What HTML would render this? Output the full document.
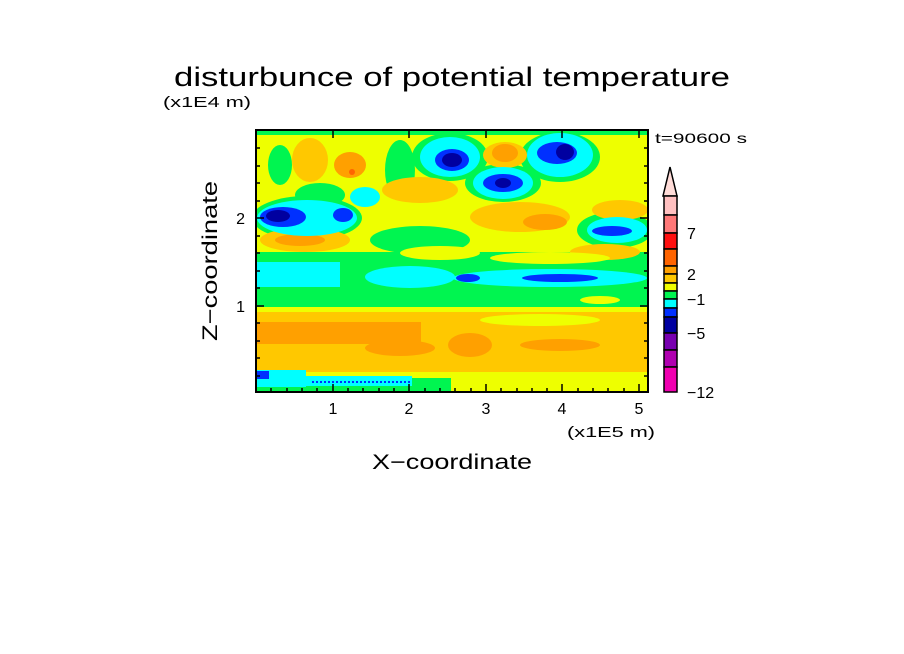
<!DOCTYPE html>
<html><head><meta charset="utf-8"><style>html,body{margin:0;padding:0;background:#fff;}svg{display:block}</style></head>
<body>
<svg width="904" height="654" viewBox="0 0 904 654" xmlns="http://www.w3.org/2000/svg" font-family="Liberation Sans, sans-serif">
<defs><clipPath id="c"><rect x="256" y="130" width="392" height="262"/></clipPath></defs>
<text x="174" y="86" font-size="27" textLength="556" lengthAdjust="spacingAndGlyphs">disturbunce of potential temperature</text>
<text x="163" y="107" font-size="15" textLength="88" lengthAdjust="spacingAndGlyphs">(x1E4 m)</text>
<text x="655" y="143" font-size="14" textLength="92" lengthAdjust="spacingAndGlyphs">t=90600 s</text>
<text x="567" y="437" font-size="15" textLength="88" lengthAdjust="spacingAndGlyphs">(x1E5 m)</text>
<text x="452" y="469" font-size="21" text-anchor="middle" textLength="160" lengthAdjust="spacingAndGlyphs">X−coordinate</text>
<text transform="translate(217,261) rotate(-90)" font-size="21" text-anchor="middle" textLength="160" lengthAdjust="spacingAndGlyphs">Z−coordinate</text>
<g clip-path="url(#c)">
<rect x="256" y="130" width="392" height="262" fill="#eeff00"/>
<rect x="256" y="130" width="392" height="5" fill="#00f550"/>
<ellipse cx="320" cy="195" rx="25" ry="12" fill="#00f550"/>
<ellipse cx="400" cy="170" rx="15" ry="30" fill="#00f550"/>
<ellipse cx="450" cy="157" rx="38" ry="24" fill="#00f550"/>
<ellipse cx="503" cy="183" rx="38" ry="19" fill="#00f550"/>
<ellipse cx="560" cy="157" rx="40" ry="25" fill="#00f550"/>
<ellipse cx="307" cy="218" rx="55" ry="22" fill="#00f550"/>
<ellipse cx="615" cy="230" rx="38" ry="18" fill="#00f550"/>
<ellipse cx="280" cy="165" rx="12" ry="20" fill="#00f550"/>
<rect x="256" y="252" width="392" height="58" fill="#00f550"/>
<ellipse cx="420" cy="240" rx="50" ry="14" fill="#00f550"/>
<ellipse cx="310" cy="160" rx="18" ry="22" fill="#ffc800"/>
<ellipse cx="350" cy="165" rx="16" ry="13" fill="#ffa000"/>
<circle cx="352" cy="172" r="3" fill="#ff6400"/>
<ellipse cx="505" cy="155" rx="22" ry="13" fill="#ffc800"/>
<ellipse cx="505" cy="153" rx="13" ry="9" fill="#ffa000"/>
<ellipse cx="420" cy="190" rx="38" ry="13" fill="#ffc800"/>
<ellipse cx="520" cy="217" rx="50" ry="15" fill="#ffc800"/>
<ellipse cx="545" cy="222" rx="22" ry="8" fill="#ffa000"/>
<ellipse cx="620" cy="210" rx="28" ry="10" fill="#ffc800"/>
<ellipse cx="305" cy="240" rx="45" ry="12" fill="#ffc800"/>
<ellipse cx="300" cy="240" rx="25" ry="6" fill="#ffa000"/>
<ellipse cx="605" cy="252" rx="35" ry="8" fill="#ffc800"/>
<ellipse cx="440" cy="253" rx="40" ry="7" fill="#eeff00"/>
<ellipse cx="550" cy="258" rx="60" ry="6" fill="#eeff00"/>
<ellipse cx="450" cy="157" rx="30" ry="20" fill="#00ffff"/>
<ellipse cx="503" cy="183" rx="30" ry="16" fill="#00ffff"/>
<ellipse cx="560" cy="155" rx="33" ry="22" fill="#00ffff"/>
<ellipse cx="307" cy="218" rx="50" ry="18" fill="#00ffff"/>
<ellipse cx="365" cy="197" rx="15" ry="10" fill="#00ffff"/>
<ellipse cx="617" cy="230" rx="30" ry="13" fill="#00ffff"/>
<rect x="256" y="262" width="84" height="25" fill="#00ffff"/>
<ellipse cx="410" cy="277" rx="45" ry="11" fill="#00ffff"/>
<ellipse cx="550" cy="278" rx="97" ry="9" fill="#00ffff"/>
<ellipse cx="452" cy="160" rx="17" ry="11" fill="#0030ff"/>
<ellipse cx="452" cy="160" rx="10" ry="7" fill="#0000a0"/>
<ellipse cx="503" cy="183" rx="20" ry="9" fill="#0030ff"/>
<ellipse cx="503" cy="183" rx="8" ry="5" fill="#0000a0"/>
<ellipse cx="557" cy="153" rx="20" ry="11" fill="#0030ff"/>
<ellipse cx="565" cy="152" rx="9" ry="8" fill="#0000a0"/>
<ellipse cx="283" cy="217" rx="23" ry="10" fill="#0030ff"/>
<ellipse cx="278" cy="216" rx="12" ry="6" fill="#0000a0"/>
<ellipse cx="343" cy="215" rx="10" ry="7" fill="#0030ff"/>
<ellipse cx="612" cy="231" rx="20" ry="5" fill="#0030ff"/>
<ellipse cx="468" cy="278" rx="12" ry="4" fill="#0030ff"/>
<ellipse cx="560" cy="278" rx="38" ry="4" fill="#0030ff"/>
<ellipse cx="600" cy="300" rx="20" ry="4" fill="#eeff00"/>
<rect x="256" y="307" width="392" height="6" fill="#eeff00"/>
<rect x="256" y="312" width="195" height="62" fill="#ffc800"/>
<rect x="451" y="312" width="197" height="60" fill="#ffc800"/>
<rect x="256" y="322" width="165" height="22" fill="#ffa000"/>
<ellipse cx="400" cy="348" rx="35" ry="8" fill="#ffa000"/>
<ellipse cx="470" cy="345" rx="22" ry="12" fill="#ffa000"/>
<ellipse cx="560" cy="345" rx="40" ry="6" fill="#ffa000"/>
<ellipse cx="540" cy="320" rx="60" ry="6" fill="#eeff00"/>
<rect x="256" y="372" width="392" height="20" fill="#eeff00"/>
<rect x="256" y="378" width="195" height="14" fill="#00f550"/>
<rect x="256" y="370" width="50" height="17" fill="#00ffff"/>
<rect x="306" y="376" width="106" height="10" fill="#00ffff"/>
<rect x="256" y="371" width="13" height="8" fill="#0030ff"/>
<line x1="312" y1="382" x2="412" y2="382" stroke="#0030ff" stroke-width="2" stroke-dasharray="2 2"/>
<rect x="451" y="385" width="197" height="7" fill="#eeff00"/>
</g>
<rect x="256" y="130" width="392" height="262" fill="none" stroke="#000" stroke-width="2"/>
<g stroke="#000" stroke-width="1.5">
<path d="M333 392v-8M409 392v-8M486 392v-8M562 392v-8M639 392v-8M333 130v8M409 130v8M486 130v8M562 130v8M639 130v8"/>
<path d="M256 306h8M256 218h8M648 306h-8M648 218h-8"/>
<path d="M271 392v-4M287 392v-4M302 392v-4M317 392v-4M348 392v-4M363 392v-4M379 392v-4M394 392v-4M425 392v-4M440 392v-4M455 392v-4M471 392v-4M501 392v-4M517 392v-4M532 392v-4M547 392v-4M578 392v-4M593 392v-4M608 392v-4M624 392v-4"/>
<path d="M256 376h4M256 358h4M256 341h4M256 323h4M256 288h4M256 271h4M256 253h4M256 236h4M256 201h4M256 183h4M256 166h4M256 148h4M648 376h-4M648 358h-4M648 341h-4M648 323h-4M648 288h-4M648 271h-4M648 253h-4M648 236h-4M648 201h-4M648 183h-4M648 166h-4M648 148h-4"/>
</g>
<g font-size="16" text-anchor="middle">
<text x="333" y="414">1</text><text x="409" y="414">2</text><text x="486" y="414">3</text><text x="562" y="414">4</text><text x="639" y="414">5</text>
</g>
<g font-size="16" text-anchor="end">
<text x="245" y="224">2</text><text x="245" y="312">1</text>
</g>
<polygon points="670,167 663,196 677,196" fill="#ffdcd8" stroke="#000" stroke-width="1.5"/>
<g stroke="#000" stroke-width="1.5">
<rect x="664" y="196" width="13" height="19" fill="#ffc0c0"/>
<rect x="664" y="215" width="13" height="18" fill="#ff7878"/>
<rect x="664" y="233" width="13" height="16" fill="#ff1010"/>
<rect x="664" y="249" width="13" height="17" fill="#ff6400"/>
<rect x="664" y="266" width="13" height="8" fill="#ffa000"/>
<rect x="664" y="274" width="13" height="9" fill="#ffc800"/>
<rect x="664" y="283" width="13" height="8" fill="#f0ff00"/>
<rect x="664" y="291" width="13" height="8" fill="#00f550"/>
<rect x="664" y="299" width="13" height="9" fill="#00ffff"/>
<rect x="664" y="308" width="13" height="9" fill="#0030ff"/>
<rect x="664" y="317" width="13" height="16" fill="#0000a0"/>
<rect x="664" y="333" width="13" height="17" fill="#7800b0"/>
<rect x="664" y="350" width="13" height="17" fill="#b000b0"/>
<rect x="664" y="367" width="13" height="25" fill="#f000b0"/>
</g>
<g font-size="16">
<text x="687" y="239">7</text><text x="687" y="280">2</text><text x="687" y="305">−1</text><text x="687" y="339">−5</text><text x="687" y="398">−12</text>
</g>
</svg>
</body></html>
